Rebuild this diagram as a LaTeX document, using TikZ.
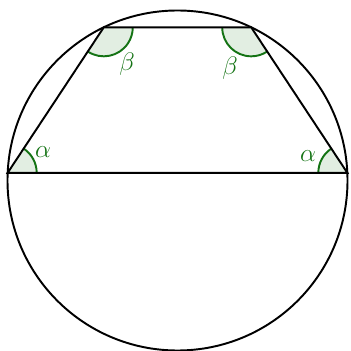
\documentclass[tikz,border=0pt]{standalone}
\usepackage{amsmath,amssymb}
\usepackage{xcolor}
\usepackage{tikz}
\usetikzlibrary{calc}

\definecolor{anggreen}{RGB}{20,115,20}
\definecolor{angfill}{RGB}{226,238,226}

\begin{document}
\begin{tikzpicture}[x=0.02cm, y=0.02cm, line width=1.1pt,
every node/.style={font=\fontsize{14}{16}\selectfont, text=anggreen},
angfilled/.style={fill=angfill, draw=none},
angarc/.style={draw=anggreen, line width=1.1pt}]
\useasboundingbox (-177.5,-170.5) rectangle (173.5,180.5);
\def\rr{170}
\def\ra{29}
\coordinate (O) at (0,0);
\coordinate (A) at (177.4:\rr);
\coordinate (B) at (115.7:\rr);
\coordinate (C) at (64.3:\rr);
\coordinate (D) at (2.6:\rr);
% angle sectors
\fill[angfilled] (A) -- ++(0:\ra) arc (0:56.4:\ra) -- cycle;
\fill[angfilled] (B) -- ++(-123.6:\ra) arc (-123.6:0:\ra) -- cycle;
\fill[angfilled] (C) -- ++(180:\ra) arc (180:303.6:\ra) -- cycle;
\fill[angfilled] (D) -- ++(123.6:\ra) arc (123.6:180:\ra) -- cycle;
\draw[angarc] ($(A)+(0:\ra)$) arc (0:56.4:\ra);
\draw[angarc] ($(B)+(-123.6:\ra)$) arc (-123.6:0:\ra);
\draw[angarc] ($(C)+(180:\ra)$) arc (180:303.6:\ra);
\draw[angarc] ($(D)+(123.6:\ra)$) arc (123.6:180:\ra);
% circle and trapezoid
\draw (O) circle (\rr);
\draw (A) -- (B) -- (C) -- (D) -- cycle;
% labels
\node (alphaA) at (-134.5,28.5) {$\alpha$};
\node (betaB) at (-50.5,116.5) {$\beta$};
\node (betaC) at (52.5,112.5) {$\beta$};
\node (alphaD) at (130.5,24.5) {$\alpha$};
\end{tikzpicture}
\end{document}
